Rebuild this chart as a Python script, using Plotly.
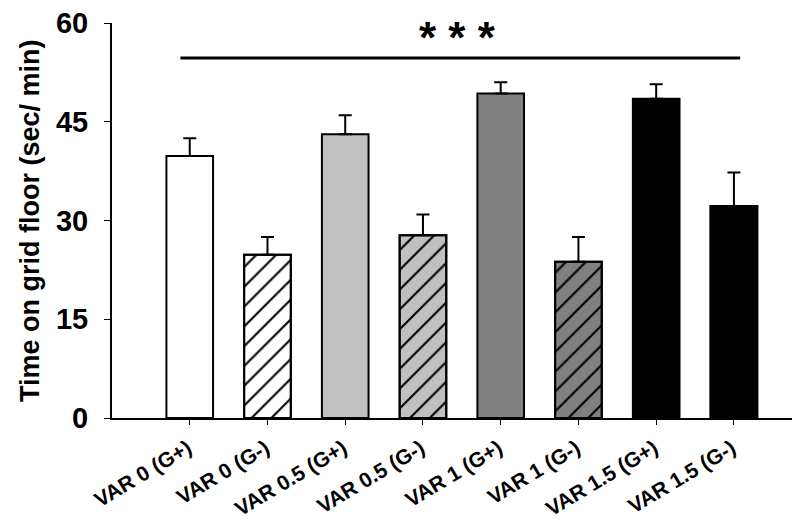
import plotly.graph_objects as go

categories = ["VAR 0 (G+)", "VAR 0 (G-)", "VAR 0.5 (G+)", "VAR 0.5 (G-)",
              "VAR 1 (G+)", "VAR 1 (G-)", "VAR 1.5 (G+)", "VAR 1.5 (G-)"]
means = [39.8, 24.8, 43.1, 27.75, 49.3, 23.75, 48.5, 32.2]
errors = [2.7, 2.7, 2.9, 3.15, 1.7, 3.75, 2.2, 5.1]
fills = ["#ffffff", "#ffffff", "#c0c0c0", "#c0c0c0", "#808080", "#808080", "#000000", "#000000"]
hatched = [False, True, False, True, False, True, False, True]
y_ticks = [0, 15, 30, 45, 60]
sig_y = 54.7
sig_text = "* * *"
y_title = "Time on grid floor (sec/ min)"

FONT = "Arial, Liberation Sans, sans-serif"
x = list(range(len(categories)))
n = len(categories)

fig = go.Figure()
# solid fills + error bars
fig.add_trace(go.Bar(
    x=x, y=means, width=0.6,
    marker=dict(color=fills, line=dict(color="black", width=2)),
    error_y=dict(type="data", symmetric=False, array=errors,
                 arrayminus=[0] * n,
                 color="black", thickness=2, width=6.5),
    showlegend=False,
))
# hatching overlay for the G- groups
hx = [xi for xi, h in zip(x, hatched) if h]
hy = [m for m, h in zip(means, hatched) if h]
fig.add_trace(go.Bar(
    x=hx, y=hy, width=0.6,
    marker=dict(
        color="black",
        line=dict(color="black", width=2),
        pattern=dict(shape="/", fgcolor="black", bgcolor="rgba(0,0,0,0)",
                     fgopacity=1, size=14, solidity=0.15, fillmode="replace"),
    ),
    showlegend=False, hoverinfo="skip",
))

# significance line
fig.add_trace(go.Scatter(
    x=[x[0] - 0.12, x[-1] + 0.08], y=[sig_y, sig_y], mode="lines",
    line=dict(color="black", width=3), showlegend=False, hoverinfo="skip",
))

fig.add_annotation(x=(x[0] + x[-1]) / 2 - 0.05, y=60, yref="y", xref="x",
                   text="<b>" + sig_text + "</b>", showarrow=False,
                   font=dict(family=FONT, size=44, color="black"),
                   yanchor="middle", yshift=-14)

fig.add_annotation(x=-0.12, y=0.5, xref="paper", yref="paper",
                   text="<b>" + y_title + "</b>", textangle=-90,
                   showarrow=False, xanchor="center", yanchor="middle",
                   font=dict(family=FONT, size=27, color="black"))

fig.update_layout(
    width=800, height=523,
    margin=dict(l=104, r=8, t=15, b=113),
    plot_bgcolor="white", paper_bgcolor="white",
    font=dict(family=FONT, color="black"),
    barmode="overlay",
)
fig.update_xaxes(
    range=[-1, 7.85], tickmode="array", tickvals=x,
    ticktext=["<b>" + c + "</b>" for c in categories],
    tickangle=-31, tickfont=dict(family=FONT, size=21, color="black"),
    showline=True, linecolor="black", linewidth=2,
    ticks="outside", ticklen=5, tickwidth=1, tickcolor="black",
    showgrid=False, zeroline=False, automargin=False,
    ticklabeloverflow="allow", ticklabelstandoff=3, ticklabelshift=-2,
)
fig.update_yaxes(
    range=[0, 60], tickmode="array", tickvals=y_ticks,
    ticktext=["<b>%d</b>" % t for t in y_ticks],
    tickfont=dict(family=FONT, size=29, color="black"),
    showline=True, linecolor="black", linewidth=2,
    ticks="outside", ticklen=6, tickwidth=1, tickcolor="black",
    showgrid=False, zeroline=False, automargin=False,
    ticklabeloverflow="allow", ticklabelstandoff=10,
)

fig.write_html("out.html")
